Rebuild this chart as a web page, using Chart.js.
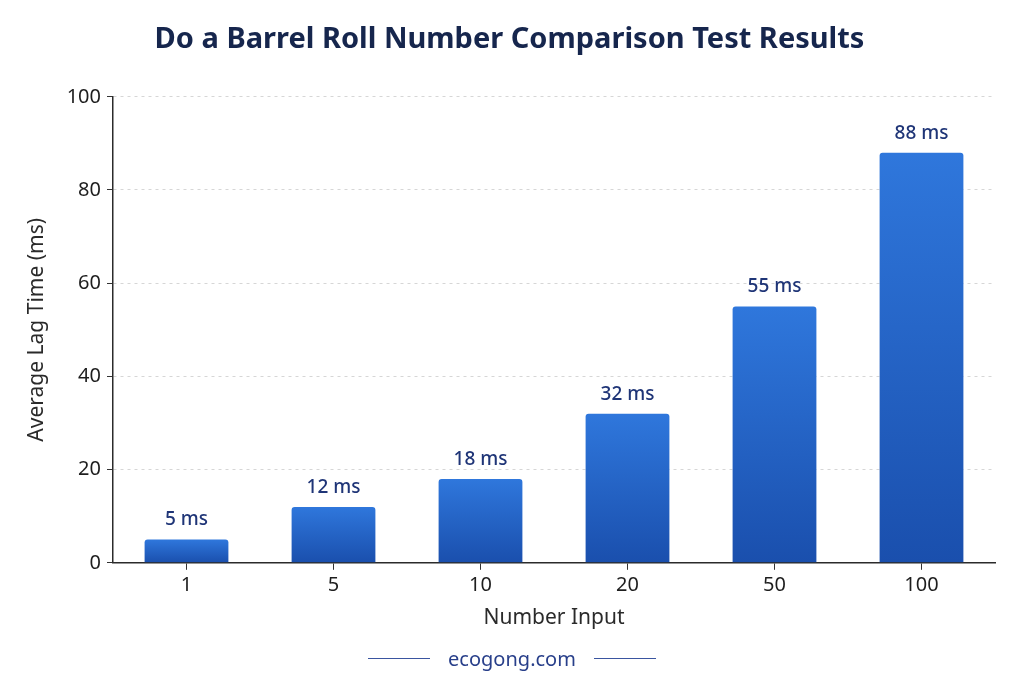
<!DOCTYPE html>
<html lang="en">
<head>
    <meta charset="UTF-8">
    <script src="https://cdn.jsdelivr.net/npm/chart.js@4.4.1/dist/chart.umd.min.js"></script>
    <title>Do a Barrel Roll Number Comparison Test Results</title>
    <style>
        body { margin: 0; background: #fff; }
        #wrap { position: relative; width: 1024px; height: 683px; }
        #footer {
            position: absolute; left: 0; top: 645px; width: 1024px;
            display: flex; justify-content: center; align-items: center;
            font-family: "Noto Sans", sans-serif; font-size: 20px; color: #283f8a;
        }
        #footer span.line { display: inline-block; width: 62px; height: 1.5px; background: #3a55a0; margin: 0 18px; }
    </style>
</head>
<body>
    <div id="wrap">
        <canvas id="chart" width="1024" height="683"></canvas>
        <div id="footer"><span class="line"></span>ecogong.com<span class="line"></span></div>
    </div>

    <script>
        // values
        const categories = ['1', '5', '10', '20', '50', '100'];
        const lagTimes = [5, 12, 18, 32, 55, 88];
        const yTicks = [0, 20, 40, 60, 80, 100];

        // writes "NN ms" above each bar
        const barLabels = {
            id: 'barLabels',
            afterDatasetsDraw(chart) {
                const ctx = chart.ctx;
                const meta = chart.getDatasetMeta(0);
                ctx.save();
                ctx.font = '500 19px "Noto Sans", sans-serif';
                ctx.fillStyle = '#1f3577';
                ctx.textAlign = 'center';
                ctx.textBaseline = 'bottom';
                meta.data.forEach((bar, i) => {
                    ctx.fillText(lagTimes[i] + ' ms', bar.x, bar.y - 10);
                });
                ctx.restore();
            }
        };

        // each bar gets its own top-to-bottom gradient
        function barFill(context) {
            const chart = context.chart;
            const y = chart.scales.y;
            if (!chart.chartArea || !y || context.dataIndex === undefined) return '#2a6bd4';
            const top = y.getPixelForValue(lagTimes[context.dataIndex]);
            const bottom = y.getPixelForValue(0);
            const g = chart.ctx.createLinearGradient(0, top, 0, bottom);
            g.addColorStop(0, '#2f77dc');
            g.addColorStop(1, '#1a4fad');
            return g;
        }

        const ctx = document.getElementById('chart').getContext('2d');
        new Chart(ctx, {
            type: 'bar',
            data: {
                labels: categories,
                datasets: [{
                    data: lagTimes,
                    backgroundColor: barFill,
                    borderRadius: { topLeft: 3, topRight: 3 },
                    borderSkipped: 'bottom',
                    categoryPercentage: 0.57,
                    barPercentage: 1.0
                }]
            },
            options: {
                responsive: false,
                animation: false,
                layout: { padding: { left: 24, right: 29, top: 0, bottom: 52 } },
                plugins: {
                    legend: { display: false },
                    tooltip: { enabled: false },
                    title: {
                        display: true,
                        text: 'Do a Barrel Roll Number Comparison Test Results',
                        color: '#16264d',
                        font: { family: '"Noto Sans", sans-serif', size: 29, weight: 'bold' },
                        padding: { top: 22, bottom: 40 }
                    }
                },
                scales: {
                    x: {
                        grid: {
                            offset: false,
                            drawOnChartArea: false,
                            drawTicks: true,
                            tickLength: 7,
                            tickColor: '#333'
                        },
                        border: { color: '#2b2b2b', width: 1.5 },
                        ticks: {
                            color: '#1e1e1e',
                            padding: 3,
                            font: { family: '"Noto Sans", sans-serif', size: 20 }
                        },
                        title: {
                            display: true,
                            text: 'Number Input',
                            color: '#2a2a2a',
                            padding: { top: 6, bottom: 0 },
                            font: { family: '"Noto Sans", sans-serif', size: 21 }
                        }
                    },
                    y: {
                        min: 0,
                        max: 100,
                        afterBuildTicks(scale) {
                            scale.ticks = yTicks.map(v => ({ value: v }));
                        },
                        afterFit(scale) {
                            scale.width = 89;
                        },
                        grid: {
                            color: '#d6d6d6',
                            lineWidth: 1,
                            tickLength: 6,
                            tickColor: '#333',
                            tickBorderDash: []
                        },
                        border: { color: '#2b2b2b', width: 1.5, dash: [3, 4] },
                        ticks: {
                            color: '#1e1e1e',
                            padding: 6,
                            font: { family: '"Noto Sans", sans-serif', size: 20 }
                        },
                        title: {
                            display: true,
                            text: 'Average Lag Time (ms)',
                            color: '#2a2a2a',
                            padding: { top: 0, bottom: 4 },
                            font: { family: '"Noto Sans", sans-serif', size: 21 }
                        }
                    }
                }
            },
            plugins: [barLabels]
        });
    </script>
</body>
</html>
